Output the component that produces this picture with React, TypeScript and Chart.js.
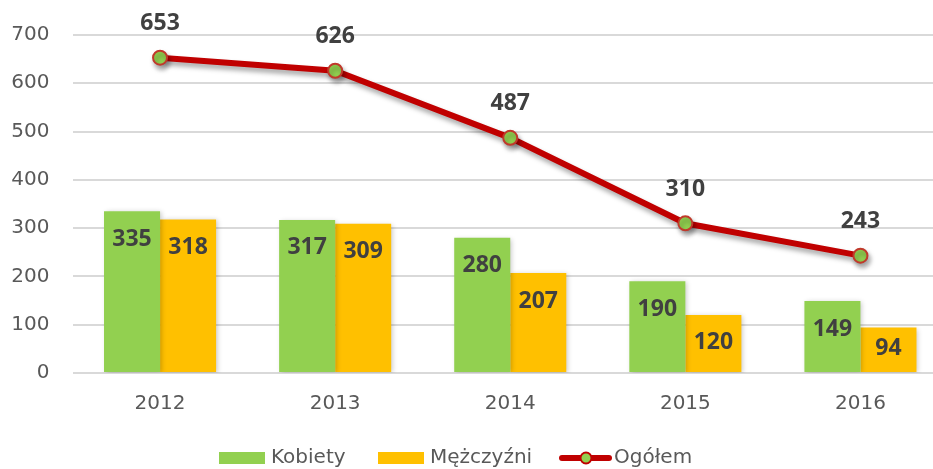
import React, { useEffect, useRef } from "react";
import { Chart, registerables } from "chart.js";

Chart.register(...registerables);

const years = ["2012", "2013", "2014", "2015", "2016"];
const kobiety = [335, 317, 280, 190, 149];
const mezczyzni = [318, 309, 207, 120, 94];
const ogolem = [653, 626, 487, 310, 243];
const yTicks = [0, 100, 200, 300, 400, 500, 600, 700];

const GREEN = "#92D050";
const ORANGE = "#FFC000";
const RED = "#C00000";
const TEXT = "#595959";
const LABEL = "#404040";
const FONT = "'DejaVu Sans', sans-serif";
const BOLD = "'Open Sans', 'DejaVu Sans', sans-serif";

const shadowPlugin = {
  id: "shadows",
  beforeDatasetDraw(chart: any, args: any) {
    const ctx = chart.ctx;
    ctx.save();
    if (args.index === 2) {
      ctx.shadowColor = "rgba(0,0,0,0.35)";
      ctx.shadowBlur = 5;
      ctx.shadowOffsetX = 2;
      ctx.shadowOffsetY = 4;
    } else {
      ctx.shadowColor = "rgba(0,0,0,0.22)";
      ctx.shadowBlur = 5;
      ctx.shadowOffsetX = 2;
      ctx.shadowOffsetY = 1;
    }
  },
  afterDatasetDraw(chart: any) {
    chart.ctx.restore();
  },
};

const labelPlugin = {
  id: "valueLabels",
  afterDatasetsDraw(chart: any) {
    const ctx = chart.ctx;
    ctx.save();
    ctx.font = `bold 23px ${BOLD}`;
    ctx.fillStyle = LABEL;
    ctx.textAlign = "center";
    ctx.textBaseline = "middle";
    chart.data.datasets.forEach((ds: any, i: number) => {
      const meta = chart.getDatasetMeta(i);
      meta.data.forEach((el: any, j: number) => {
        const v = ds.data[j];
        if (ds.type === "line") {
          ctx.fillText(String(v), el.x, el.y - 34);
        } else {
          const h = el.base - el.y;
          const off = Math.min(28, h / 2 - 1);
          ctx.fillText(String(v), el.x, el.y + off);
        }
      });
    });
    ctx.restore();
  },
};

const legendPlugin = {
  id: "customLegend",
  afterDraw(chart: any) {
    const ctx = chart.ctx;
    ctx.save();
    const cy = 458;
    ctx.font = `20px ${FONT}`;
    ctx.fillStyle = TEXT;
    ctx.textBaseline = "middle";
    ctx.textAlign = "left";
    // Kobiety
    ctx.fillStyle = GREEN;
    ctx.fillRect(219, cy - 6, 46, 12);
    ctx.fillStyle = TEXT;
    ctx.fillText(chart.data.datasets[0].label, 271, cy);
    // Mężczyźni
    ctx.fillStyle = ORANGE;
    ctx.fillRect(378, cy - 6, 46, 12);
    ctx.fillStyle = TEXT;
    ctx.fillText(chart.data.datasets[1].label, 430, cy);
    // Ogółem
    ctx.strokeStyle = RED;
    ctx.lineWidth = 6;
    ctx.lineCap = "round";
    ctx.beginPath();
    ctx.moveTo(562, cy);
    ctx.lineTo(609, cy);
    ctx.stroke();
    ctx.beginPath();
    ctx.arc(586, cy, 5.5, 0, Math.PI * 2);
    ctx.fillStyle = GREEN;
    ctx.fill();
    ctx.lineWidth = 2;
    ctx.strokeStyle = RED;
    ctx.stroke();
    ctx.fillStyle = TEXT;
    ctx.fillText(chart.data.datasets[2].label, 614, cy);
    ctx.restore();
  },
};

export default function App() {
  const ref = useRef<HTMLCanvasElement | null>(null);
  useEffect(() => {
    if (!ref.current) return;
    const chart = new Chart(ref.current, {
      type: "bar",
      data: {
        labels: years,
        datasets: [
          {
            type: "bar",
            label: "Kobiety",
            data: kobiety,
            backgroundColor: GREEN,
            categoryPercentage: 0.64,
            barPercentage: 1,
            order: 2,
          } as any,
          {
            type: "bar",
            label: "Mężczyźni",
            data: mezczyzni,
            backgroundColor: ORANGE,
            categoryPercentage: 0.64,
            barPercentage: 1,
            order: 2,
          } as any,
          {
            type: "line",
            label: "Ogółem",
            data: ogolem,
            borderColor: RED,
            borderWidth: 6,
            pointRadius: 7,
            pointBorderWidth: 2,
            pointBackgroundColor: GREEN,
            pointBorderColor: "#C0392B",
            tension: 0,
            order: 1,
          } as any,
        ],
      },
      options: {
        animation: false,
        responsive: false,
        maintainAspectRatio: false,
        layout: { padding: { top: 34, right: 2, bottom: 0, left: 0 } },
        plugins: {
          legend: { display: false },
          tooltip: { enabled: false },
        },
        scales: {
          x: {
            grid: { display: false, drawTicks: false },
            border: { display: false },
            ticks: {
              color: TEXT,
              font: { family: FONT, size: 20 },
              padding: 19,
            },
            afterFit(scale: any) {
              scale.height = 96;
            },
          },
          y: {
            min: 0,
            max: 700,
            afterBuildTicks(scale: any) {
              scale.ticks = yTicks.map((v) => ({ value: v }));
            },
            grid: { color: "#D9D9D9", lineWidth: 2, drawTicks: false },
            border: { display: false },
            ticks: {
              color: TEXT,
              font: { family: FONT, size: 20 },
              padding: 23,
            },
            afterFit(scale: any) {
              scale.width = 72.5;
            },
          },
        },
      },
      plugins: [shadowPlugin, labelPlugin, legendPlugin],
    });
    return () => chart.destroy();
  }, []);
  return (
    <div
      style={{
        position: "fixed",
        left: 0,
        top: 0,
        width: 933,
        height: 469,
        overflow: "hidden",
        background: "#fff",
      }}
    >
      <canvas ref={ref} width={957} height={469} style={{ display: "block" }} />
    </div>
  );
}
